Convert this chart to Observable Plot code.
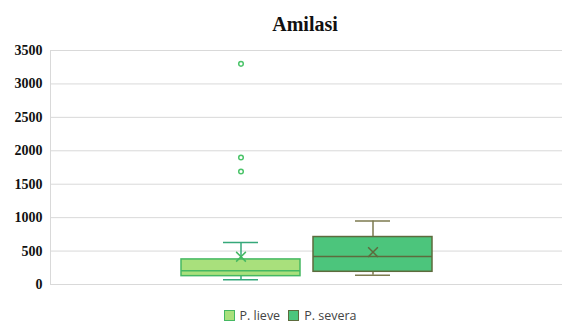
<!DOCTYPE html>
<html><head><meta charset="utf-8">
<script src="https://cdn.jsdelivr.net/npm/d3@7"></script>
<script src="https://cdn.jsdelivr.net/npm/@observablehq/plot@0.6"></script>
<style>
body{margin:0;background:#fff;width:562px;height:323px;overflow:hidden;}
#title{height:40px;padding-top:13px;line-height:20px;text-align:center;font:bold 20px "Liberation Serif",serif;color:#111;padding-left:48px;box-sizing:border-box;}
#chart svg{display:block;}
#legend{height:21px;display:flex;justify-content:center;align-items:center;font:12.5px "Open Sans","Liberation Sans",sans-serif;color:#444;padding-top:5px;padding-left:18px;box-sizing:border-box;}
#legend span.sw{display:inline-block;width:11px;height:11px;margin-right:5px;box-sizing:border-box;}
#legend span.it{margin:0 4px;display:flex;align-items:center;}
</style></head>
<body>
<div id="title">Amilasi</div>
<div id="chart"></div>
<div id="legend"></div>
<script>
const categories = ["P. lieve", "P. severa"];
const q1 = [125, 190];
const median = [205, 420];
const q3 = [375, 710];
const whiskerLow = [70, 140];
const whiskerHigh = [630, 950];
const means = [415, 485];
const outlierCat = ["P. lieve", "P. lieve", "P. lieve"];
const outlierVal = [3300, 1900, 1690];
const yTicks = [0, 500, 1000, 1500, 2000, 2500, 3000, 3500];
const fills = ["#a9e07c", "#4cc57c"];
const strokes = ["#45b862", "#5d6b3d"];
const whiskerColors = ["#35a87a", "#7d7a4f"];

const boxes = categories.map((c, i) => ({
  cat: c, q1: q1[i], med: median[i], q3: q3[i], lo: whiskerLow[i], hi: whiskerHigh[i],
  mean: means[i], fill: fills[i], stroke: strokes[i], wc: whiskerColors[i]
}));
const outliers = outlierCat.map((c, i) => ({cat: c, v: outlierVal[i]}));

const chart = Plot.plot({
  width: 562, height: 262,
  marginTop: 10, marginBottom: 18, marginLeft: 50, marginRight: 0,
  style: {background: "#fff", fontFamily: "Liberation Serif"},
  x: {domain: categories, paddingInner: 0.1, paddingOuter: 0.975, axis: null},
  y: {domain: [0, 3500], ticks: yTicks, grid: false},
  marks: [
    Plot.ruleY(yTicks, {stroke: "#d9d9d9", strokeWidth: 1}),
    Plot.axisY({ticks: yTicks, tickFormat: d3.format("d"), tickSize: 0, tickPadding: 8, fontSize: 14, fontWeight: "bold", fontFamily: "Liberation Serif", fill: "#111", label: null}),
    Plot.ruleX(boxes, {x: "cat", y1: "q3", y2: "hi", stroke: "wc", strokeWidth: 1.5}),
    Plot.ruleX(boxes, {x: "cat", y1: "lo", y2: "q1", stroke: "wc", strokeWidth: 1.5}),
    Plot.tickY(boxes, {x: "cat", y: "hi", stroke: "wc", strokeWidth: 1.5, insetLeft: 42, insetRight: 42}),
    Plot.tickY(boxes, {x: "cat", y: "lo", stroke: "wc", strokeWidth: 1.5, insetLeft: 42, insetRight: 42}),
    Plot.barY(boxes, {x: "cat", y1: "q1", y2: "q3", fill: "fill", stroke: "stroke", strokeWidth: 1.5}),
    Plot.tickY(boxes, {x: "cat", y: "med", stroke: "stroke", strokeWidth: 1.5}),
    Plot.dot(boxes, {x: "cat", y: "mean", symbol: "times", r: 4.5, stroke: "stroke", strokeWidth: 1.5}),
    Plot.dot(outliers, {x: "cat", y: "v", r: 2.3, stroke: "#4cc46a", strokeWidth: 1.5, fill: "#fff"})
  ]
});
document.getElementById("chart").appendChild(chart);
const svg = d3.select(chart);
svg.selectAll("text").attr("font-family", "Liberation Serif").style("font-family", "Liberation Serif");
svg.append("line").attr("x1", 50.5).attr("x2", 50.5).attr("y1", 10).attr("y2", 244).attr("stroke", "#d9d9d9");

const legend = document.getElementById("legend");
categories.forEach((c, i) => {
  const it = document.createElement("span");
  it.className = "it";
  const sw = document.createElement("span");
  sw.className = "sw";
  sw.style.background = fills[i];
  sw.style.border = "1px solid " + strokes[i];
  it.appendChild(sw);
  it.appendChild(document.createTextNode(c));
  legend.appendChild(it);
});
</script>
</body></html>
